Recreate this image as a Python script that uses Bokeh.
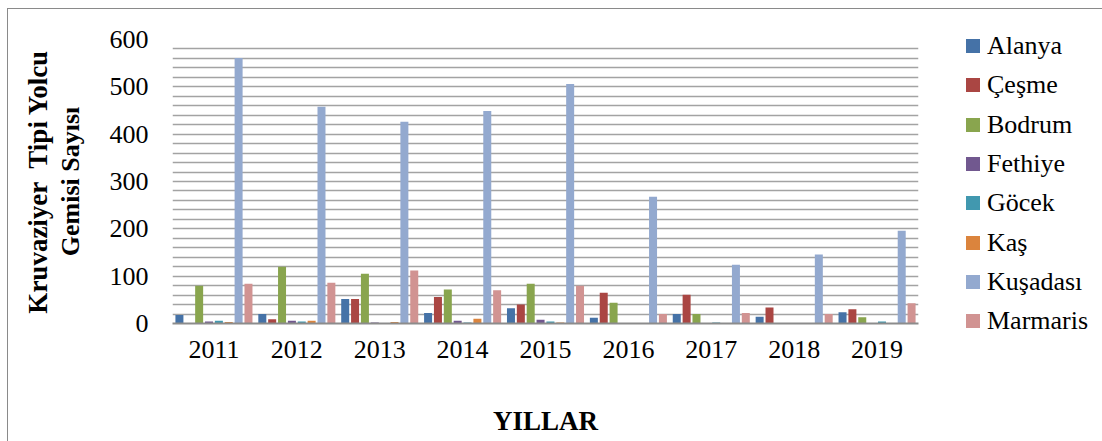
from bokeh.plotting import figure
from bokeh.layouts import row
from bokeh.models import (FactorRange, Range1d, Div,
                          SingleIntervalTicker, Title, ColumnDataSource, FixedTicker)
from bokeh.transform import dodge
from bokeh.embed import file_html
from bokeh.resources import INLINE

years = ["2011", "2012", "2013", "2014", "2015", "2016", "2017", "2018", "2019"]
alanya = [18, 20, 52, 22, 32, 12, 20, 14, 24]
cesme = [1, 9, 52, 56, 40, 65, 61, 34, 30]
bodrum = [80, 120, 105, 72, 84, 44, 20, 1, 13]
fethiye = [4, 6, 2, 6, 8, 1, 0, 1, 0]
gocek = [6, 4, 1, 2, 4, 1, 2, 1, 4]
kas = [3, 6, 3, 10, 2, 0, 0, 0, 0]
kusadasi = [561, 458, 426, 449, 506, 268, 124, 146, 196]
marmaris = [84, 86, 112, 70, 80, 20, 22, 20, 43]

names = ["Alanya", "Çeşme", "Bodrum", "Fethiye", "Göcek", "Kaş", "Kuşadası", "Marmaris"]
series = [alanya, cesme, bodrum, fethiye, gocek, kas, kusadasi, marmaris]
colors = ["#4572A7", "#AA4643", "#89A54E", "#71588F", "#4198AF", "#DB843D", "#93A9CF", "#D19392"]

FONT = "Liberation Serif"

data = {"year": years}
for i, s in enumerate(series):
    data[f"s{i}"] = s
src = ColumnDataSource(data)

p = figure(x_range=FactorRange(*years), y_range=Range1d(0, 600),
           width=920, height=432, output_backend="svg", toolbar_location=None,
           min_border_left=164, min_border_right=10, min_border_top=30,
           min_border_bottom=118)
p.outline_line_color = None
p.background_fill_color = "white"

step = 0.119
bw = 0.0965
for i, (nm, col) in enumerate(zip(names, colors)):
    p.vbar(x=dodge("year", (i - 3.5) * step, range=p.x_range), top=f"s{i}",
           width=bw, source=src, fill_color=col, line_color=None)

# grid
p.xgrid.grid_line_color = None
p.ygrid.ticker = SingleIntervalTicker(interval=20, num_minor_ticks=0)
p.ygrid.grid_line_color = "#a3a3a3"
p.ygrid.grid_line_width = 1.3

# y axis
p.yaxis.ticker = FixedTicker(ticks=[0, 100, 200, 300, 400, 500, 600])
p.yaxis.axis_line_color = None
p.yaxis.major_tick_line_color = None
p.yaxis.minor_tick_line_color = None
p.yaxis.major_tick_out = 0
p.yaxis.major_tick_in = 0
p.yaxis.major_label_standoff = 24
p.yaxis.major_label_text_font = FONT
p.yaxis.major_label_text_font_size = "26px"
p.yaxis.major_label_text_color = "black"
p.yaxis.axis_label = "Gemisi Sayısı"
p.yaxis.axis_label_text_font = FONT
p.yaxis.axis_label_text_font_style = "bold"
p.yaxis.axis_label_text_font_size = "26px"
p.yaxis.axis_label_text_color = "black"
p.yaxis.axis_label_standoff = 22

t = Title(text="Kruvaziyer\u00a0 Tipi Yolcu", align="center", text_font=FONT,
          text_font_size="27px", text_font_style="bold", text_color="black", standoff=0)
p.add_layout(t, "left")

# x axis
p.xaxis.axis_line_color = "#8c8c8c"
p.xaxis.axis_line_width = 2
p.xaxis.major_tick_line_color = None
p.xaxis.minor_tick_line_color = None
p.xaxis.major_tick_out = 0
p.xaxis.major_tick_in = 0
p.xaxis.major_label_standoff = 17
p.xaxis.major_label_text_font = FONT
p.xaxis.major_label_text_font_size = "26px"
p.xaxis.major_label_text_color = "black"
p.xaxis.axis_label = "YILLAR"
p.xaxis.axis_label_text_font = FONT
p.xaxis.axis_label_text_font_style = "bold"
p.xaxis.axis_label_text_font_size = "27px"
p.xaxis.axis_label_text_color = "black"
p.xaxis.axis_label_standoff = 45

# legend (HTML box to the right of the plot)
row_pitch = 39.3
first_center = 37
entries = []
for i, (nm, col) in enumerate(zip(names, colors)):
    top = first_center + i * row_pitch - 15
    entries.append(
        f'<div style="position:absolute;left:38px;top:{top:.1f}px;height:30px;'
        f'display:flex;align-items:center;white-space:nowrap;'
        f"font-family:'Liberation Serif',serif;font-size:26px;color:#000;line-height:30px\">"
        f'<span style="display:inline-block;width:14px;height:14px;background:{col};'
        f'margin-right:7px;flex:none"></span>{nm}</div>'
    )
legend_html = ('<div style="position:relative;width:174px;height:432px;">'
               + "".join(entries) + "</div>")
legend_div = Div(text=legend_html, width=174, height=432, margin=0)

layout = row(p, legend_div, spacing=0)
layout.styles = {"margin-left": "7px", "margin-top": "8px",
                 "border-left": "1px solid #8a8a8a", "border-top": "1px solid #8a8a8a"}

open("out.html", "w").write(file_html(layout, INLINE))
